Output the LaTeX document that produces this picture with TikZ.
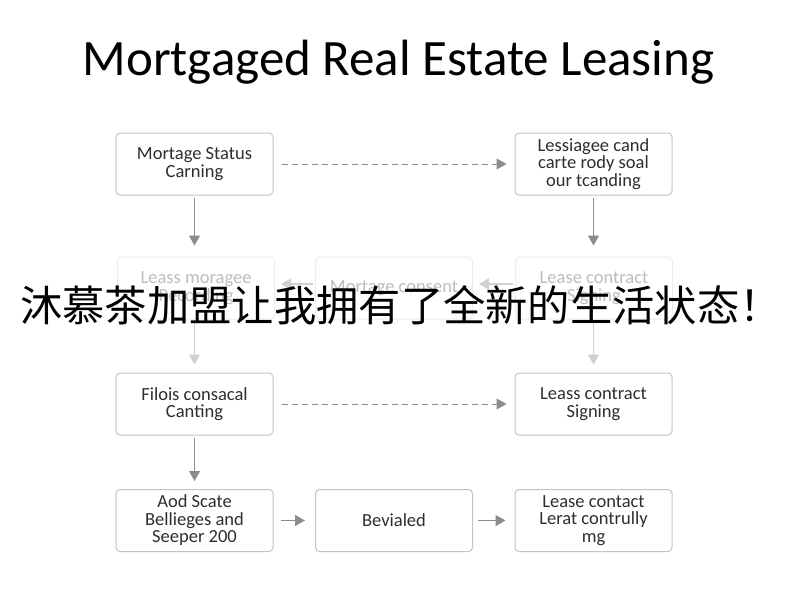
\documentclass[tikz,border=0pt]{standalone}
\usepackage{fontspec}
\setmainfont{Carlito}
\newfontfamily\cjkfont{Noto Sans CJK SC}
\usetikzlibrary{arrows.meta}
\definecolor{boxline}{HTML}{C4C4C4}
\definecolor{arrowgray}{HTML}{8C8C8C}
\definecolor{txtgray}{HTML}{2E2E2E}
\definecolor{fadeline}{HTML}{EDEDED}
\definecolor{fadetxt}{HTML}{BDBDBD}
\definecolor{fadearrow}{HTML}{D0D0D0}
\tikzset{
  x=1pt, y=-1pt,
  stepbox/.style={draw=boxline, line width=1pt, rounded corners=4pt, fill=white,
    minimum width=157pt, minimum height=62pt, align=center, text=txtgray,
    font=\fontsize{18.5}{17.5}\selectfont, inner sep=2pt},
  fadebox/.style={stepbox, draw=fadeline, text=fadetxt},
  flow/.style={draw=arrowgray, line width=1.3pt, -{Triangle[length=10pt,width=11pt]}},
  dflow/.style={flow, dashed, dash pattern=on 6pt off 4pt, line width=1pt},
  fadeflow/.style={flow, draw=fadearrow},
}
\begin{document}
\begin{tikzpicture}
\useasboundingbox[fill=white] (0,0) rectangle (800,600);
\node[font=\fontsize{51}{56}\selectfont, text=black] (title) at (398.5,62) {Mortgaged Real Estate Leasing};

% row 1
\node[stepbox] (a1) at (194.5,164) {Mortage Status\\Carning};
\node[stepbox] (a3) at (593.5,164) {Lessiagee cand\\carte rody soal\\our tcanding};
% row 2 (faded)
\node[fadebox] (b1) at (196,288) {Leass moragee\\Recording};
\node[fadebox] (b2) at (394,288) {Mortage consent};
\node[fadebox] (b3) at (594,288) {Lease contract\\Signing};
% row 3
\node[stepbox] (c1) at (194.5,404) {Filois consacal\\Canting};
\node[stepbox] (c3) at (593.5,404) {Leass contract\\Signing};
% row 4
\node[stepbox] (d1) at (194.5,520.5) {Aod Scate\\Bellieges and\\Seeper 200};
\node[stepbox] (d2) at (394,520.5) {Bevialed};
\node[stepbox] (d3) at (593.5,520.5) {Lease contact\\Lerat contrully\\mg};

% connectors
\draw[dflow] ([xshift=8pt]a1.east) -- ([xshift=-8pt]a3.west);
\draw[flow] ([yshift=-2pt]a1.south) -- ([yshift=11pt]b1.north -| a1.south);
\draw[flow] ([yshift=-2pt]a3.south) -- ([yshift=11pt]b3.north -| a3.south);
\draw[fadeflow] ([xshift=-2pt,yshift=4pt]b2.west) -- ([xshift=6pt,yshift=4pt]b1.east);
\draw[fadeflow] ([xshift=-2pt,yshift=4pt]b3.west) -- ([xshift=6pt,yshift=4pt]b2.east);
\draw[fadeflow] (b1.south -| a1.south) -- ([yshift=8pt]c1.north);
\draw[fadeflow] (b3.south -| a3.south) -- ([yshift=8pt]c3.north);
\draw[dflow] ([xshift=8pt]c1.east) -- ([xshift=-8pt]c3.west);
\draw[flow] ([yshift=-2pt]c1.south) -- ([yshift=8pt]d1.north);
\draw[flow] ([xshift=7pt]d1.east) -- ([xshift=-10pt]d2.west);
\draw[flow] ([xshift=5pt]d2.east) -- ([xshift=-9pt]d3.west);

% overlay text
\node[font=\cjkfont\fontsize{42.3}{46}\selectfont, text=black, inner sep=0pt] (overlay) at (401,305) {沐慕茶加盟让我拥有了全新的生活状态！};
\end{tikzpicture}
\end{document}
